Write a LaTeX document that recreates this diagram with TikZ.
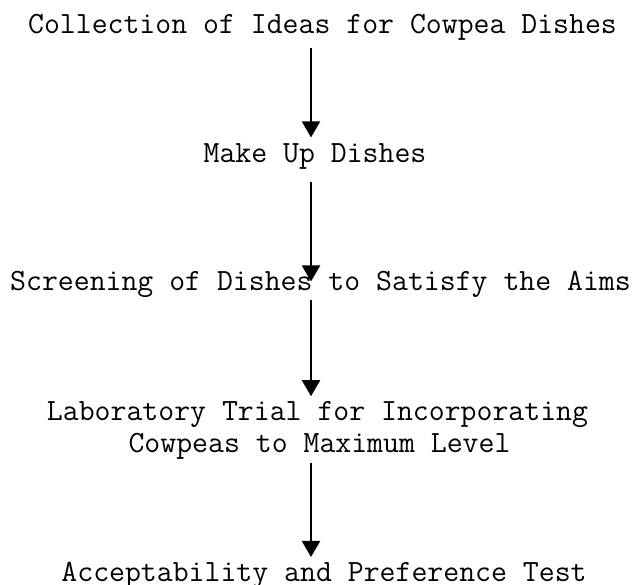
\documentclass[tikz,border=0pt]{standalone}
\usetikzlibrary{arrows.meta}
\tikzset{
  steptext/.style={font=\ttfamily\fontsize{30.9}{32}\selectfont, inner sep=0pt, anchor=base, text=black},
  flow/.style={line width=2pt, -{Triangle[width=18pt,length=16pt]}},
}
\begin{document}
\begin{tikzpicture}[x=1pt,y=1pt]
\useasboundingbox (0,0) rectangle (639,584);
% vertical line that carries all the arrows
\coordinate (ax) at (311,0);

% stages of the procedure, top to bottom
\node[steptext] (collect)   at (322.5,550) {Collection of Ideas for Cowpea Dishes};
\node[steptext] (makeup)    at (315,421)   {Make Up Dishes};
\node[steptext] (screen)    at (320.5,293) {Screening of Dishes to Satisfy the Aims};
\node[steptext] (labtrial)  at (317.5,164) {Laboratory Trial for Incorporating};
\node[steptext] (labtrialb) at (319.5,132) {Cowpeas to Maximum Level};
\node[steptext] (accept)    at (324,3)     {Acceptability and Preference Test};

% arrows between the stages
\draw[flow, shorten <=7pt, shorten >=6.5pt]  (collect.south -| ax)   -- (makeup.north -| ax);
\draw[flow, shorten <=12pt, shorten >=-10pt] (makeup.south -| ax)    -- (screen.north -| ax);
\draw[flow, shorten <=2pt, shorten >=4.5pt]  (screen.south -| ax)    -- (labtrial.north -| ax);
\draw[flow, shorten <=4pt, shorten >=4.5pt]  (labtrialb.south -| ax) -- (accept.north -| ax);
\end{tikzpicture}
\end{document}
